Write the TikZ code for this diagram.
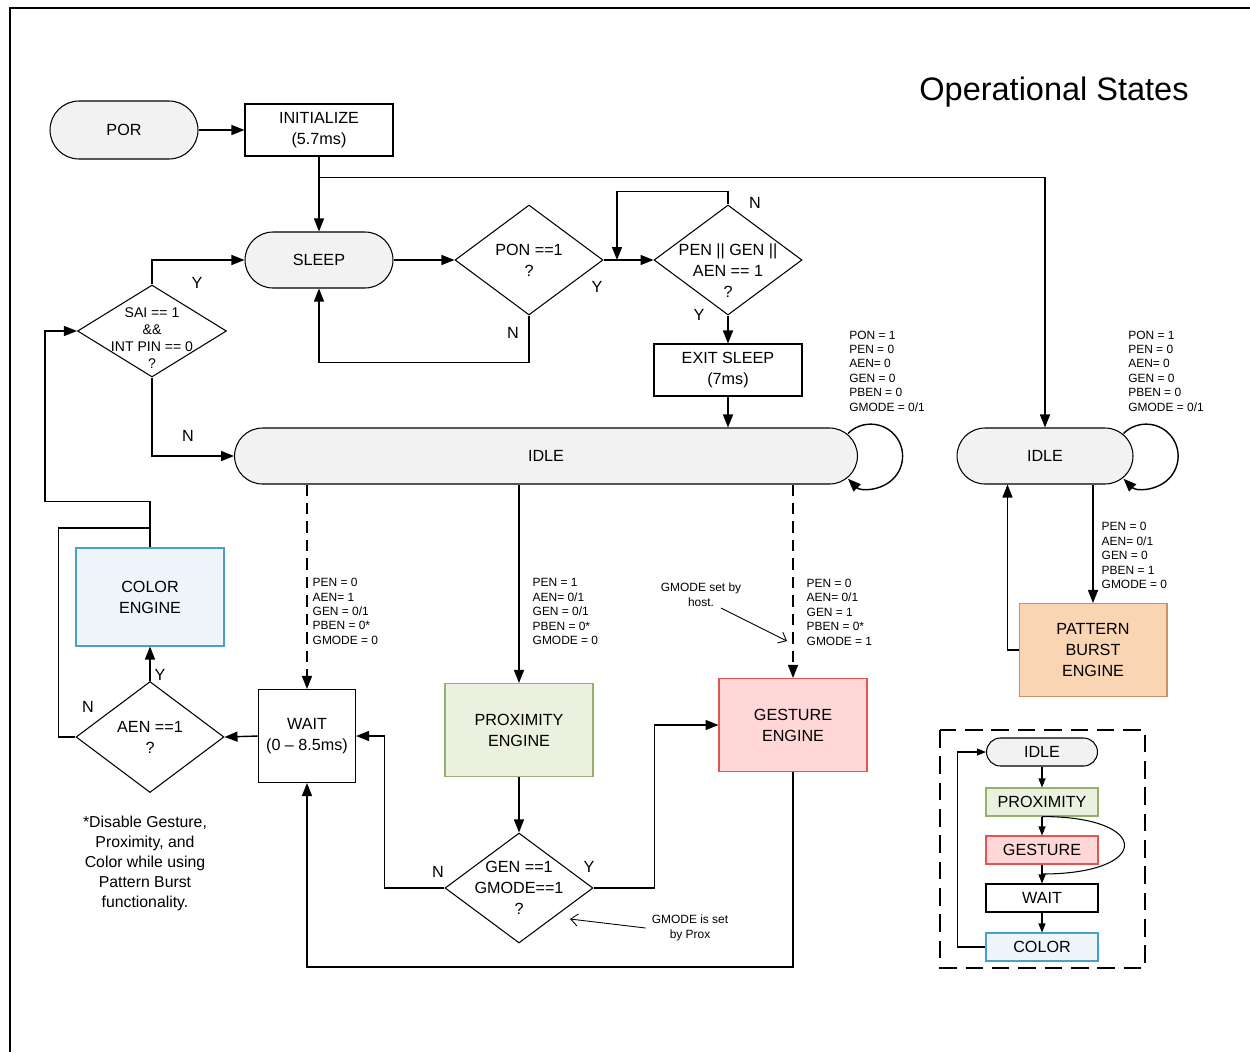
\documentclass[tikz,border=0pt]{standalone}
\usepackage{fontspec}
\setmainfont{Liberation Sans}
\usetikzlibrary{arrows.meta,shapes.geometric,calc}
\definecolor{mycolor1}{RGB}{242,242,242}
\definecolor{mycolor2}{RGB}{238,245,251}
\definecolor{mycolor3}{RGB}{75,160,198}
\definecolor{mycolor4}{RGB}{235,241,222}
\definecolor{mycolor5}{RGB}{150,175,110}
\definecolor{mycolor6}{RGB}{255,215,215}
\definecolor{mycolor7}{RGB}{225,85,85}
\definecolor{mycolor8}{RGB}{250,213,180}
\definecolor{mycolor9}{RGB}{200,145,95}
\tikzset{
  every node/.style={font=\fontsize{9.2}{12}\selectfont, align=center},
  stadium/.style={draw, line width=0.6pt, fill=mycolor1, rounded corners=0.56cm,
    minimum width=2.96cm, minimum height=1.12cm, inner sep=0pt},
  procbox/.style={draw, line width=0.6pt, minimum width=2.96cm, minimum height=1.04cm, inner sep=0pt},
  engine/.style={draw, line width=0.6pt, minimum width=2.96cm, minimum height=1.86cm, inner sep=0pt},
  decide/.style={draw, line width=0.6pt, diamond, minimum width=2.96cm, minimum height=2.2cm, inner sep=0pt},
  legbox/.style={draw, line width=0.6pt, minimum width=2.24cm, minimum height=0.56cm, inner sep=0pt},
  cond/.style={font=\fontsize{6.8}{8.2}\selectfont, align=left, inner sep=0pt},
  yn/.style={inner sep=0pt},
  arr/.style={line width=0.8pt, -{Triangle[length=0.26cm,width=0.2cm]}},
  dsh/.style={arr, dash pattern=on 6.5pt off 4pt},
  larr/.style={line width=0.6pt, -{Triangle[length=0.18cm,width=0.14cm]}},
  notearr/.style={line width=0.5pt, -{Straight Barb[length=0.14cm,width=0.24cm]}}
}

\begin{document}
\begin{tikzpicture}[x=0.02cm, y=-0.02cm]
  \useasboundingbox (0,0) rectangle (1250,1052);
  \draw[line width=0.8pt] (10,1052) -- (10,8) -- (1250,8);
  \node[font=\fontsize{18.5}{22}\selectfont] (title) at (1054,92) {Operational States};

  \node[stadium, minimum height=1.16cm, rounded corners=0.58cm] (por) at (124,130) {POR};
  \node[procbox] (init) at (319,130) {INITIALIZE\\(5.7ms)};
  \node[stadium] (sleep) at (319,260) {SLEEP};
  \node[decide, label={center:PON ==1\\?}] (pon) at (529,260) {};
  \node[decide, label={[yshift=-0.22cm]center:PEN || GEN ||\\AEN == 1\\?}] (pen) at (728,260) {};
  \coordinate (merge) at (617,260);
  \node[procbox] (exit) at (728,370) {EXIT SLEEP\\(7ms)};
  \node[decide, minimum width=2.98cm, minimum height=1.84cm,
    label={[yshift=-0.14cm, font=\fontsize{8}{9.7}\selectfont]center:SAI == 1\\\&\&\\INT PIN == 0\\?}] (sai) at (152,331) {};
  \node[stadium, minimum width=12.46cm] (bigidle) at (546,456) {IDLE};
  \node[stadium, minimum width=3.52cm] (ridle) at (1045,456) {IDLE};
  \node[engine, minimum height=1.96cm, fill=mycolor2, draw=mycolor3] (color) at (150,597) {COLOR\\ENGINE};
  \node[decide, minimum height=2.22cm, label={center:AEN ==1\\?}] (aen) at (150,737) {};
  \node[engine, minimum width=1.94cm] (wait) at (307,736) {WAIT\\(0 – 8.5ms)};
  \node[engine, fill=mycolor4, draw=mycolor5] (prox) at (519,730) {PROXIMITY\\ENGINE};
  \node[engine, fill=mycolor6, draw=mycolor7] (gesture) at (793,725) {GESTURE\\ENGINE};
  \node[decide, label={center:GEN ==1\\GMODE==1\\?}] (gen) at (519,888) {};
  \node[engine, fill=mycolor8, draw=mycolor9] (pattern) at (1093,650) {PATTERN\\BURST\\ENGINE};

  \draw[arr] (por) -- (init);
  \draw[arr] (init) -- (sleep);
  \draw[arr] (init.south) ++(0,21) -| (ridle.north);
  \draw[arr] (sleep) -- (pon);
  \draw[arr] (pon.east) -- (pen.west);
  \draw[arr] (pen.north) -- ++(0,-13) -| (merge);
  \draw[arr] (pon.south) -- ++(0,47) -| (sleep.south);
  \draw[arr] (pen) -- (exit);
  \draw[arr] (exit.south) -- (exit.south |- bigidle.north);
  \draw[arr] (sai.north) |- (sleep.west);
  \draw[arr] (sai.south) |- (bigidle.west);
  \draw[arr] (color.north) -- ++(0,-46) -- ++(-105,0) |- (sai.west);
  \draw[line width=0.8pt] (aen.west) -- ++(-17,0) -- ++(0,-209) -| (color.north);
  \draw[arr] (aen.north) -- (color.south);
  \draw[arr] (wait.west) -- (aen.east);
  \draw[dsh] (bigidle.south -| wait.north) -- node[cond, right=0.1cm, pos=0.62] (condwait)
    {PEN = 0\\AEN= 1\\GEN = 0/1\\PBEN = 0*\\GMODE = 0} (wait.north);
  \draw[arr] (bigidle.south -| prox.north) -- node[cond, right=0.26cm, pos=0.64] (condprox)
    {PEN = 1\\AEN= 0/1\\GEN = 0/1\\PBEN = 0*\\GMODE = 0} (prox.north);
  \draw[dsh] (bigidle.south -| gesture.north) -- node[cond, right=0.26cm, pos=0.66] (condgest)
    {PEN = 0\\AEN= 0/1\\GEN = 1\\PBEN = 0*\\GMODE = 1} (gesture.north);
  \draw[arr] (prox) -- (gen);
  \draw[arr] (gen.west) -- ++(-60,0) |- (wait.east);
  \draw[arr] (gen.east) -- ++(61,0) |- (gesture.west);
  \draw[arr] (gesture.south) -- ++(0,195) -| (wait.south);
  \draw[arr] (ridle.south -| pattern.north) -- node[cond, right=0.16cm, pos=0.6] (condpat)
    {PEN = 0\\AEN= 0/1\\GEN = 0\\PBEN = 1\\GMODE = 0} (pattern.north);
  \draw[arr] (pattern.west) -- ++(-11,0) coordinate (pb) -- (pb |- ridle.south);
  \draw[arr] ([xshift=-0.2cm, yshift=0.45cm]bigidle.east) arc[start angle=135, end angle=-135, radius=0.64cm];
  \draw[arr] ([xshift=-0.2cm, yshift=0.45cm]ridle.east) arc[start angle=135, end angle=-135, radius=0.64cm];

  \node[cond, anchor=west] (idlecond) at (849,371) {PON = 1\\PEN = 0\\AEN= 0\\GEN = 0\\PBEN = 0\\GMODE = 0/1};
  \node[cond, anchor=west] (ridlecond) at (1128,371) {PON = 1\\PEN = 0\\AEN= 0\\GEN = 0\\PBEN = 0\\GMODE = 0/1};

  \node[yn] (ponY) at (597,287) {Y};
  \node[yn] (ponN) at (513,333) {N};
  \node[yn] (penN) at (755,203) {N};
  \node[yn] (penY) at (699,315) {Y};
  \node[yn] (saiY) at (197,283) {Y};
  \node[yn] (saiN) at (188,436) {N};
  \node[yn] (aenY) at (160,675) {Y};
  \node[yn] (aenN) at (88,707) {N};
  \node[yn] (genN) at (438,872) {N};
  \node[yn] (genY) at (589,867) {Y};

  \node[font=\fontsize{6.8}{8.5}\selectfont] (hostnote) at (701,595) {GMODE set by\\host.};
  \coordinate (hosttip) at (787,641);
  \draw[notearr] ([xshift=0.4cm, yshift=0.1cm]hostnote.south) -- (hosttip);
  \node[font=\fontsize{6.8}{8.5}\selectfont] (proxnote) at (690,928) {GMODE is set\\by Prox};
  \coordinate (proxtip) at (570,919);
  \draw[notearr] (proxnote.west) -- (proxtip);
  \node[font=\fontsize{9}{11.4}\selectfont] (note) at (145,863)
    {*Disable Gesture,\\Proximity, and\\Color while using\\Pattern Burst\\functionality.};

  \draw[line width=1pt, dash pattern=on 10pt off 5pt] (940,730) rectangle (1145,968);
  \node[stadium, minimum width=2.22cm, minimum height=0.56cm, rounded corners=0.28cm] (lidle) at (1042,752) {IDLE};
  \node[legbox, fill=mycolor4, draw=mycolor5] (lprox) at (1042,802) {PROXIMITY};
  \node[legbox, fill=mycolor6, draw=mycolor7] (lgest) at (1042,850) {GESTURE};
  \node[legbox] (lwait) at (1042,898) {WAIT};
  \node[legbox, fill=mycolor2, draw=mycolor3] (lcolor) at (1042,947) {COLOR};
  \draw[larr] (lidle) -- (lprox);
  \draw[larr] (lprox) -- (lgest);
  \draw[larr] (lgest) -- (lwait);
  \draw[larr] (lwait) -- (lcolor);
  \draw[larr] (lcolor.west) -- ++(-28,0) |- (lidle.west);
  \draw[line width=0.6pt] (lprox.south) .. controls +(110,0) and +(110,0) .. ($(lgest.south)!0.5!(lwait.north)$);
\end{tikzpicture}
\end{document}
